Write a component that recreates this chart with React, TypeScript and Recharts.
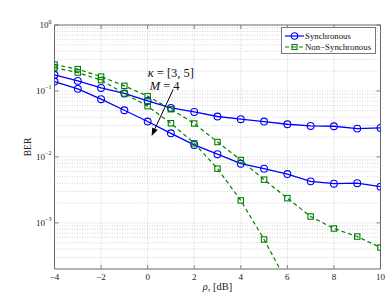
import React from 'react';
import { LineChart, Line, XAxis, YAxis, ReferenceLine, ReferenceArea, ReferenceDot, Legend } from 'recharts';

const rho = [-4, -3, -2, -1, 0, 1, 2, 3, 4, 5, 6, 7, 8, 9, 10];
const syncA = [0.176, 0.142, 0.111, 0.0917, 0.0705, 0.0553, 0.0481, 0.041, 0.0373, 0.0344, 0.0313, 0.0295, 0.0292, 0.0269, 0.0275];
const syncB = [0.139, 0.1076, 0.075, 0.051, 0.0344, 0.0228, 0.0152, 0.011, 0.0079, 0.00664, 0.0055, 0.00426, 0.00393, 0.004, 0.00354];
const nonSyncA = [0.251, 0.214, 0.165, 0.1196, 0.0834, 0.0529, 0.0321, 0.01683, 0.00897, 0.00452, 0.00237, 0.00125, 0.000822, 0.000621, 0.000423];
const nonSyncB = [0.226, 0.19, 0.146, 0.0916, 0.0588, 0.0324, 0.0161, 0.00664, 0.00219, 0.00056, 0.000123, null, null, null, null];

const xTicks = [-4, -2, 0, 2, 4, 6, 8, 10];
const yTicks = [1e-3, 1e-2, 1e-1, 1];
const yMinor = [3e-4, 4e-4, 5e-4, 6e-4, 7e-4, 8e-4, 9e-4, 1e-3, 2e-3, 3e-3, 4e-3, 5e-3, 6e-3, 7e-3, 8e-3, 9e-3, 1e-2, 2e-2, 3e-2, 4e-2, 5e-2, 6e-2, 7e-2, 8e-2, 9e-2, 1e-1, 2e-1, 3e-1, 4e-1, 5e-1, 6e-1, 7e-1, 8e-1, 9e-1];
const xGrid = [-2, 0, 2, 4, 6, 8];
const legendItems = [
  { name: 'Synchronous', color: '#0000ff', marker: 'circle', dash: '' },
  { name: 'Non\u2212Synchronous', color: '#008000', marker: 'square', dash: '4 3' },
];

const data = rho.map((r, i) => ({ rho: r, sA: syncA[i], sB: syncB[i], nA: nonSyncA[i], nB: nonSyncB[i] }));

const W = 390, H = 296;
const ML = 54.5, MR = 9.5, MT = 25, MB = 27;
const PW = W - ML - MR, PH = H - MT - MB;
const FONT = '"Liberation Serif", "DejaVu Serif", serif';
const AXIS = '#666';
const GRID = '#c8c8c8';
const BLUE = '#0000ff';
const GREEN = '#008000';

const fmtNum = (v: number) => (v < 0 ? '\u2212' + Math.abs(v) : String(v));

const YTick = (props: any) => {
  const { x, y, payload } = props;
  const e = Math.round(Math.log10(payload.value));
  const axisX = x + 3;
  return (
    <g>
      <text x={x} y={y + 3} textAnchor="end" fontFamily={FONT} fontSize={9} fill="#222">
        10<tspan dy={-4.5} fontSize={6}>{fmtNum(e)}</tspan>
      </text>
      <line x1={axisX} x2={axisX + 4} y1={y} y2={y} stroke={AXIS} strokeWidth={0.8} />
      <line x1={axisX + PW} x2={axisX + PW - 4} y1={y} y2={y} stroke={AXIS} strokeWidth={0.8} />
    </g>
  );
};

const XTick = (props: any) => {
  const { x, y, payload } = props;
  const axisY = y - 4;
  return (
    <g>
      <text x={x} y={y + 7} textAnchor="middle" fontFamily={FONT} fontSize={9} fill="#222">{fmtNum(payload.value)}</text>
      <line x1={x} x2={x} y1={axisY} y2={axisY - 4} stroke={AXIS} strokeWidth={0.8} />
      <line x1={x} x2={x} y1={axisY - PH} y2={axisY - PH + 4} stroke={AXIS} strokeWidth={0.8} />
    </g>
  );
};

const SquareDot = (props: any) => {
  const { cx, cy, index } = props;
  if (cx == null || cy == null || Number.isNaN(cx) || Number.isNaN(cy)) return <g key={'sq' + index} />;
  return <rect key={'sq' + index} x={cx - 2.7} y={cy - 2.7} width={5.4} height={5.4} fill="none" stroke={GREEN} strokeWidth={1.1} />;
};

const ArrowShape = (props: any) => {
  const { x1, y1, x2, y2 } = props;
  if ([x1, y1, x2, y2].some((v) => v == null)) return null;
  const ang = Math.atan2(y2 - y1, x2 - x1);
  const len = 8, half = 3;
  const bx = x2 - len * Math.cos(ang), by = y2 - len * Math.sin(ang);
  const px = -Math.sin(ang) * half, py = Math.cos(ang) * half;
  return (
    <g>
      <line x1={x1} y1={y1} x2={bx} y2={by} stroke="#000" strokeWidth={1} />
      <polygon points={`${x2},${y2} ${bx + px},${by + py} ${bx - px},${by - py}`} fill="#000" />
    </g>
  );
};

const AnnotText = (props: any) => {
  const { cx, cy } = props;
  if (cx == null || cy == null) return null;
  return (
    <g fontFamily={FONT} fontSize={12.5} fill="#111">
      <text x={cx} y={cy}>
        <tspan fontStyle="italic">{'\u03ba'}</tspan>{' = [3, 5]'}
      </text>
      <text x={cx + 2} y={cy + 13.5}>
        <tspan fontStyle="italic">M</tspan>{' = 4'}
      </text>
    </g>
  );
};

const LegendContent = () => (
  <div style={{ border: '1px solid #777', background: '#fff', width: 95, padding: '2px 0 1px 3px', boxSizing: 'border-box' }}>
    {legendItems.map((it) => (
      <div key={it.name} style={{ display: 'flex', alignItems: 'center', height: 11 }}>
        <svg width={19} height={10} style={{ flex: 'none' }}>
          <line x1={0} x2={19} y1={5} y2={5} stroke={it.color} strokeWidth={1.2} strokeDasharray={it.dash || undefined} />
          {it.marker === 'circle' ? (
            <circle cx={9.5} cy={5} r={3.2} fill="none" stroke={it.color} strokeWidth={1.1} />
          ) : (
            <rect x={7} y={2.5} width={5} height={5} fill="none" stroke={it.color} strokeWidth={1.1} />
          )}
        </svg>
        <span style={{ fontFamily: FONT, fontSize: 8.8, color: '#111', marginLeft: 1, whiteSpace: 'nowrap' }}>{it.name}</span>
      </div>
    ))}
  </div>
);

const YLabel = (props: any) => {
  const vb = props.viewBox || {};
  const cx = 31, cy = (vb.y ?? MT) + (vb.height ?? PH) / 2;
  return (
    <text x={cx} y={cy} transform={`rotate(-90 ${cx} ${cy})`} textAnchor="middle" fontFamily={FONT} fontSize={9.5} fill="#222">BER</text>
  );
};

const XLabel = (props: any) => {
  const vb = props.viewBox || {};
  const cx = (vb.x ?? ML) + (vb.width ?? PW) / 2;
  const cy = MT + PH + 21;
  return (
    <text x={cx} y={cy} textAnchor="middle" fontFamily={FONT} fontSize={10.5} fill="#222">
      <tspan fontStyle="italic">{'\u03c1'}</tspan>{', [dB]'}
    </text>
  );
};

export default function App() {
  return (
    <div style={{ position: 'absolute', left: 0, top: 0, width: W, height: H, background: '#fff' }}>
      <LineChart width={W} height={H} data={data} margin={{ top: MT, right: MR, bottom: 0, left: 0 }}>
        <XAxis
          dataKey="rho"
          type="number"
          domain={[-4, 10]}
          ticks={xTicks}
          allowDataOverflow
          axisLine={false}
          tickLine={false}
          tickSize={0}
          tickMargin={4}
          height={MB}
          tick={<XTick />}
          label={<XLabel />}
        />
        <YAxis
          type="number"
          scale="log"
          domain={[2e-4, 1]}
          ticks={yTicks}
          allowDataOverflow
          axisLine={false}
          tickLine={false}
          tickSize={0}
          tickMargin={3}
          width={ML}
          tick={<YTick />}
          label={<YLabel />}
        />
        {yMinor.map((v) => (
          <ReferenceLine key={'h' + v} y={v} stroke={GRID} strokeWidth={0.8} strokeDasharray="1 1.5" />
        ))}
        {xGrid.map((v) => (
          <ReferenceLine key={'v' + v} x={v} stroke={GRID} strokeWidth={0.8} strokeDasharray="1 1.5" />
        ))}
        <ReferenceArea x1={-4} x2={10} y1={2e-4} y2={1} fill="none" fillOpacity={0} stroke={AXIS} strokeWidth={1} />
        <Line dataKey="sA" stroke={BLUE} strokeWidth={1.3} isAnimationActive={false} dot={{ r: 3.4, fill: 'none', stroke: BLUE, strokeWidth: 1.1 }} />
        <Line dataKey="sB" stroke={BLUE} strokeWidth={1.3} isAnimationActive={false} dot={{ r: 3.4, fill: 'none', stroke: BLUE, strokeWidth: 1.1 }} />
        <Line dataKey="nA" stroke={GREEN} strokeWidth={1.2} strokeDasharray="4 3" isAnimationActive={false} dot={<SquareDot />} />
        <Line dataKey="nB" stroke={GREEN} strokeWidth={1.2} strokeDasharray="4 3" isAnimationActive={false} dot={<SquareDot />} />
        <ReferenceLine segment={[{ x: 1.1, y: 0.106 }, { x: 0.17, y: 0.0208 }]} shape={ArrowShape} />
        <ReferenceDot x={0} y={0.163} r={0} shape={AnnotText} />
        <Legend
          layout="horizontal"
          verticalAlign="middle"
          align="center"
          content={<LegendContent />}
          wrapperStyle={{ position: 'absolute', left: 281, top: 27, width: 97, height: 26 }}
        />
      </LineChart>
    </div>
  );
}
